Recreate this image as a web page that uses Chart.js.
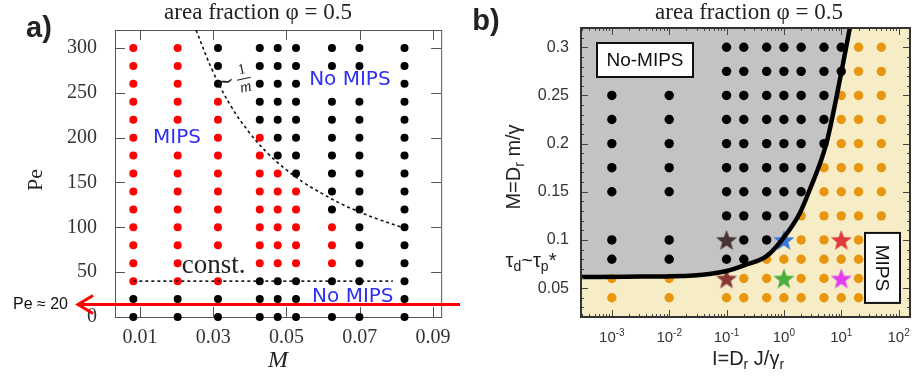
<!DOCTYPE html>
<html>
<head>
<meta charset="utf-8">
<script src="https://cdn.jsdelivr.net/npm/chart.js@4.4.1/dist/chart.umd.min.js"></script>
<style>
  html, body { margin: 0; padding: 0; background: #fff; }
  #wrap { position: relative; width: 915px; height: 379px; overflow: hidden; }
  canvas { position: absolute; top: 0; }
  #phaseA { left: 0; }
  #phaseB { left: 460px; }
</style>
</head>
<body>
<div id="wrap">
  <canvas id="phaseA" width="460" height="379"></canvas>
  <canvas id="phaseB" width="455" height="379"></canvas>
</div>
<script>
// ---------- panel a: Peclet number vs mass ----------
const massCols = [0.0082, 0.0203, 0.0313, 0.0427, 0.0476, 0.0526, 0.0624, 0.0699, 0.0822];
// Pe values of the MIPS (red) and no-MIPS (black) runs, one list per mass column
const redPe = [
  [40, 60, 80, 100, 120, 140, 160, 180, 200, 220, 240, 260, 280, 300],
  [40, 60, 80, 100, 120, 140, 160, 180, 220, 240, 260, 280, 300],
  [40, 80, 100, 120, 140, 160, 180, 200, 220, 240],
  [60, 80, 100, 120, 140, 160, 180, 200],
  [60, 80, 100, 120, 140, 160],
  [60, 80, 100, 120, 140],
  [60, 80, 100],
  [],
  []
];
const blackPe = [
  [0, 20],
  [0, 20],
  [0, 20, 260, 280, 300],
  [0, 20, 40, 220, 240, 260, 280, 300],
  [0, 20, 40, 180, 200, 220, 240, 260, 280, 300],
  [0, 20, 40, 160, 180, 200, 220, 240, 260, 280, 300],
  [0, 40, 120, 140, 160, 180, 200, 220, 240, 280, 300],
  [0, 40, 60, 80, 100, 120, 140, 160, 180, 200, 220, 240, 280, 300],
  [0, 20, 40, 60, 80, 100, 120, 140, 160, 180, 200, 220, 240, 260, 280, 300]
];
// ~1/m boundary and the constant low-Pe boundary
const invCurveM = [0.0253, 0.030, 0.035, 0.040, 0.045, 0.050, 0.055, 0.060, 0.065, 0.070, 0.075, 0.0816];
const invCurvePe = [320, 273, 234, 205, 182, 164, 149, 137, 126, 117, 109, 100];
const constLineM = [0.0082, 0.0790];
const constLinePe = [40, 40];
const xTicksA = [0.01, 0.03, 0.05, 0.07, 0.09];
const yTicksA = [0, 50, 100, 150, 200, 250, 300];
const arrowPe = 14;

// ---------- panel b: reduced mass vs reduced inertia ----------
const inertiaCols = [0.001, 0.01, 0.1, 0.2, 0.5, 1, 2, 5, 10, 20, 50];
const blackM = [
  [0.08, 0.1, 0.15, 0.175, 0.2, 0.225, 0.25],
  [0.08, 0.1, 0.15, 0.175, 0.2, 0.225, 0.25],
  [0.08, 0.125, 0.15, 0.175, 0.2, 0.225, 0.25, 0.275, 0.3],
  [0.08, 0.1, 0.125, 0.15, 0.175, 0.2, 0.225, 0.25, 0.275, 0.3],
  [0.1, 0.125, 0.15, 0.175, 0.2, 0.225, 0.25, 0.275, 0.3],
  [0.125, 0.15, 0.175, 0.2, 0.225, 0.25, 0.275, 0.3],
  [0.15, 0.175, 0.2, 0.225, 0.25, 0.275, 0.3],
  [0.2, 0.225, 0.25, 0.275, 0.3],
  [0.275, 0.3],
  [],
  []
];
const orangeM = [
  [0.04, 0.06],
  [0.04, 0.06],
  [0.04],
  [0.04, 0.06],
  [0.04, 0.06, 0.08],
  [0.04, 0.08],
  [0.04, 0.06, 0.08, 0.1, 0.125],
  [0.04, 0.06, 0.08, 0.1, 0.125, 0.15, 0.175],
  [0.04, 0.08, 0.125, 0.15, 0.175, 0.2, 0.225, 0.25],
  [0.04, 0.06, 0.08, 0.1, 0.125, 0.15, 0.175, 0.2, 0.225, 0.25, 0.275, 0.3],
  [0.04, 0.06, 0.08, 0.1, 0.125, 0.15, 0.175, 0.2, 0.225, 0.25, 0.275, 0.3]
];
const starI = [0.1, 0.1, 1, 1, 10, 10];
const starM = [0.1, 0.06, 0.1, 0.06, 0.1, 0.06];
const starColors = ['#463333', '#8c3838', '#3a78da', '#4aae3e', '#e03a3c', '#e03ef0'];
const boundaryI = [0.00029, 0.0018, 0.0265, 0.1, 0.224, 0.5, 1.04, 1.9, 2.83, 5.53, 10.1, 14.1];
const boundaryM = [0.0615, 0.0619, 0.0632, 0.0677, 0.0746, 0.0832, 0.104, 0.128, 0.1523, 0.2006, 0.2747, 0.32];
const xTicksB = [0.001, 0.01, 0.1, 1, 10, 100];
const yTicksB = [0.05, 0.1, 0.15, 0.2, 0.25, 0.3];

const SERIF = '"Liberation Serif", "DejaVu Serif", serif';
const SANS = '"Liberation Sans", Arial, sans-serif';

function columnPoints(cols, lists) {
  return cols.flatMap((c, i) => lists[i].map(v => ({ x: c, y: v })));
}

function line(ctx, x1, y1, x2, y2) {
  ctx.beginPath();
  ctx.moveTo(x1, y1);
  ctx.lineTo(x2, y2);
  ctx.stroke();
}

// text made of normal / sub / sup pieces, centred on cx with baseline at y
function drawParts(ctx, parts, cx, y, size, family) {
  const fonts = parts.map(p => `${p[2] || ''} ${p[1] === 'n' ? size : Math.round(size * 0.68)}px ${family}`);
  let w = 0;
  parts.forEach((p, i) => { ctx.font = fonts[i]; w += ctx.measureText(p[0]).width; });
  let x = cx - w / 2;
  ctx.textAlign = 'left';
  ctx.textBaseline = 'alphabetic';
  parts.forEach((p, i) => {
    ctx.font = fonts[i];
    const dy = p[1] === 'sub' ? size * 0.22 : p[1] === 'sup' ? -size * 0.42 : 0;
    ctx.fillText(p[0], x, y + dy);
    x += ctx.measureText(p[0]).width;
  });
}

function starImage(color) {
  const c = document.createElement('canvas');
  c.width = 24;
  c.height = 24;
  const g = c.getContext('2d');
  g.beginPath();
  for (let i = 0; i < 10; i++) {
    const r = i % 2 ? 4.6 : 11;
    const a = -Math.PI / 2 + i * Math.PI / 5;
    g.lineTo(12 + r * Math.cos(a), 13 + r * Math.sin(a));
  }
  g.closePath();
  g.fillStyle = color;
  g.fill();
  return c;
}

// frame, inward ticks and annotations of panel a
const decorA = {
  id: 'decorA',
  beforeDatasetsDraw(chart) {
    const { ctx, chartArea: a, scales: { x, y } } = chart;
    ctx.save();
    ctx.strokeStyle = '#555';
    ctx.lineWidth = 1;
    ctx.strokeRect(a.left + 0.5, a.top + 0.5, a.width, a.height);
    x.ticks.forEach(t => {
      const px = Math.round(x.getPixelForValue(t.value)) + 0.5;
      line(ctx, px, a.bottom, px, a.bottom - 10);
      line(ctx, px, a.top, px, a.top + 10);
    });
    y.ticks.forEach(t => {
      const py = Math.round(y.getPixelForValue(t.value)) + 0.5;
      line(ctx, a.left, py, a.left + 10, py);
      line(ctx, a.right, py, a.right - 10, py);
    });
    ctx.restore();
  },
  afterDraw(chart) {
    const { ctx, scales: { x, y } } = chart;
    ctx.save();
    ctx.fillStyle = '#222';
    ctx.textAlign = 'center';
    ctx.textBaseline = 'middle';
    ctx.font = `23px ${SERIF}`;
    ctx.fillText('area fraction \u03c6 = 0.5', 258, 13);
    ctx.font = `bold 29px ${SANS}`;
    ctx.fillText('a)', 39, 29);
    ctx.font = `italic 24px ${SERIF}`;
    ctx.fillText('M', 278, 361);
    ctx.save();
    ctx.translate(36, 180);
    ctx.rotate(-Math.PI / 2);
    ctx.font = `22px ${SERIF}`;
    ctx.fillText('Pe', 0, 0);
    ctx.restore();

    // region labels
    ctx.fillStyle = '#3030f0';
    ctx.font = `20px "DejaVu Sans", ${SANS}`;
    ctx.fillText('MIPS', x.getPixelForValue(0.0201), y.getPixelForValue(200));
    ctx.fillText('No MIPS', x.getPixelForValue(0.0673), y.getPixelForValue(264));
    ctx.fillText('No MIPS', x.getPixelForValue(0.0681), y.getPixelForValue(22));

    ctx.fillStyle = '#222';
    ctx.font = `27px ${SERIF}`;
    ctx.textAlign = 'left';
    ctx.fillText('const.', x.getPixelForValue(0.0214), y.getPixelForValue(57));

    // ~ 1/m label, tilted along the curve
    ctx.save();
    ctx.translate(x.getPixelForValue(0.0365), y.getPixelForValue(264));
    ctx.rotate(-0.22);
    ctx.textAlign = 'center';
    ctx.font = `22px ${SERIF}`;
    ctx.fillText('\u223c', -12, 0);
    ctx.font = `15px ${SERIF}`;
    ctx.fillText('1', 7, -9);
    ctx.font = `italic 16px ${SERIF}`;
    ctx.fillText('m', 7, 9);
    ctx.strokeStyle = '#222';
    ctx.lineWidth = 1;
    line(ctx, 0, 0, 14, 0);
    ctx.restore();

    // red arrow marking the lowest Pe
    const ay = y.getPixelForValue(arrowPe);
    ctx.strokeStyle = '#ff0000';
    ctx.lineWidth = 3;
    line(ctx, 79, ay, 460, ay);
    ctx.beginPath();
    ctx.moveTo(93, ay - 9);
    ctx.lineTo(78, ay);
    ctx.lineTo(93, ay + 9);
    ctx.stroke();
    ctx.fillStyle = '#111';
    ctx.font = `16px ${SANS}`;
    ctx.textAlign = 'right';
    ctx.fillText('Pe \u2248 20', 68, ay);
    ctx.restore();
  }
};

new Chart(document.getElementById('phaseA'), {
  type: 'scatter',
  data: {
    datasets: [
      {
        data: invCurveM.map((m, i) => ({ x: m, y: invCurvePe[i] })),
        showLine: true, borderColor: '#111', borderWidth: 1.6, borderDash: [3, 3],
        pointRadius: 0, tension: 0.4, fill: false
      },
      {
        data: constLineM.map((m, i) => ({ x: m, y: constLinePe[i] })),
        showLine: true, borderColor: '#111', borderWidth: 1.6, borderDash: [3, 3],
        pointRadius: 0, fill: false
      },
      {
        data: columnPoints(massCols, redPe),
        backgroundColor: '#ff0000', borderWidth: 0, pointRadius: 4, clip: false
      },
      {
        data: columnPoints(massCols, blackPe),
        backgroundColor: '#000', borderWidth: 0, pointRadius: 4, clip: false
      }
    ]
  },
  options: {
    responsive: false,
    animation: false,
    events: [],
    layout: { padding: { top: 30, right: 17, left: 0, bottom: 0 } },
    plugins: { legend: { display: false }, tooltip: { enabled: false } },
    scales: {
      x: {
        type: 'linear', min: 0.0032, max: 0.0922,
        afterBuildTicks: s => { s.ticks = xTicksA.map(v => ({ value: v })); },
        afterFit: s => { s.height = 62; },
        grid: { display: false, drawTicks: false },
        border: { display: false },
        ticks: {
          font: { family: SERIF, size: 20 }, color: '#333', padding: 9,
          maxRotation: 0, autoSkip: false, callback: v => v.toFixed(2)
        }
      },
      y: {
        type: 'linear', min: 0, max: 320,
        afterBuildTicks: s => { s.ticks = yTicksA.map(v => ({ value: v })); },
        afterFit: s => { s.width = 115; },
        grid: { display: false, drawTicks: false },
        border: { display: false },
        ticks: {
          font: { family: SERIF, size: 20 }, color: '#333', padding: 18,
          autoSkip: false, callback: v => String(v)
        }
      }
    }
  },
  plugins: [decorA]
});

// background, frame, ticks and labels of panel b
const decorB = {
  id: 'decorB',
  beforeDraw(chart) {
    const { ctx, chartArea: a } = chart;
    ctx.save();
    ctx.fillStyle = '#f6edc6';
    ctx.fillRect(a.left, a.top, a.width, a.height);
    ctx.restore();
  },
  afterDraw(chart) {
    const { ctx, chartArea: a, scales: { x, y } } = chart;
    ctx.save();
    ctx.strokeStyle = '#444';
    ctx.lineWidth = 1;
    // minor log ticks
    for (let d = -4; d <= 2; d++) {
      for (let k = 2; k <= 9; k++) {
        const v = k * Math.pow(10, d);
        if (v < x.min || v > x.max) continue;
        const px = Math.round(x.getPixelForValue(v)) + 0.5;
        line(ctx, px, a.bottom, px, a.bottom - 3);
        line(ctx, px, a.top, px, a.top + 3);
      }
    }
    for (let k = 3; k <= 31; k++) {
      const py = Math.round(y.getPixelForValue(k / 100)) + 0.5;
      line(ctx, a.left, py, a.left + 3, py);
      line(ctx, a.right, py, a.right - 3, py);
    }
    x.ticks.forEach(t => {
      const px = Math.round(x.getPixelForValue(t.value)) + 0.5;
      line(ctx, px, a.bottom, px, a.bottom - 7);
      line(ctx, px, a.top, px, a.top + 7);
    });
    y.ticks.forEach(t => {
      const py = Math.round(y.getPixelForValue(t.value)) + 0.5;
      line(ctx, a.left, py, a.left + 7, py);
      line(ctx, a.right, py, a.right - 7, py);
    });
    ctx.strokeStyle = '#333';
    ctx.lineWidth = 2;
    ctx.strokeRect(a.left, a.top, a.width, a.height);

    // decade labels 10^n
    ctx.fillStyle = '#333';
    x.ticks.forEach(t => {
      const e = Math.round(Math.log10(t.value));
      drawParts(ctx, [['10', 'n'], [String(e), 'sup']], x.getPixelForValue(t.value), 342, 15, SANS);
    });

    // region boxes
    ctx.fillStyle = '#fff';
    ctx.strokeStyle = '#111';
    ctx.lineWidth = 2;
    ctx.fillRect(a.left + 16, a.top + 15, 96, 34);
    ctx.strokeRect(a.left + 16, a.top + 15, 96, 34);
    ctx.fillRect(a.right - 45, y.getPixelForValue(0.1) - 7, 35, 70);
    ctx.strokeRect(a.right - 45, y.getPixelForValue(0.1) - 7, 35, 70);
    ctx.fillStyle = '#111';
    ctx.textAlign = 'center';
    ctx.textBaseline = 'middle';
    ctx.font = `19px ${SANS}`;
    ctx.fillText('No-MIPS', a.left + 64, a.top + 33);
    ctx.save();
    ctx.translate(a.right - 27.5, y.getPixelForValue(0.1) + 28);
    ctx.rotate(Math.PI / 2);
    ctx.fillText('MIPS', 0, 1);
    ctx.restore();

    // titles and axis labels
    ctx.fillStyle = '#222';
    ctx.font = `23px ${SERIF}`;
    ctx.fillText('area fraction \u03c6 = 0.5', 289, 13);
    ctx.font = `bold 29px ${SANS}`;
    ctx.fillText('b)', 26, 22);
    drawParts(ctx, [['I=D', 'n'], ['r', 'sub'], [' J/\u03b3', 'n'], ['r', 'sub']], 288, 365, 20, SANS);
    ctx.save();
    ctx.translate(53, 167);
    ctx.rotate(-Math.PI / 2);
    drawParts(ctx, [['M=D', 'n'], ['r', 'sub'], [' m/\u03b3', 'n']], 0, 7, 20, SANS);
    ctx.restore();
    drawParts(ctx, [['\u03c4', 'n'], ['d', 'sub'], ['~\u03c4', 'n'], ['p', 'sub'], ['*', 'n']], 71, 267, 20, SANS);
    ctx.restore();
  }
};

new Chart(document.getElementById('phaseB'), {
  type: 'scatter',
  data: {
    datasets: [
      {
        type: 'line',
        data: boundaryI.map((v, i) => ({ x: v, y: boundaryM[i] })),
        borderColor: '#000', borderWidth: 4.5, pointRadius: 0,
        cubicInterpolationMode: 'monotone',
        fill: 'end', backgroundColor: '#c3c3c3'
      },
      {
        data: starI.map((v, i) => ({ x: v, y: starM[i] })),
        pointStyle: starColors.map(starImage), clip: false
      },
      {
        data: columnPoints(inertiaCols, blackM),
        backgroundColor: '#000', borderWidth: 0, pointRadius: 4.7, clip: false
      },
      {
        data: columnPoints(inertiaCols, orangeM),
        backgroundColor: '#e8960e', borderWidth: 0, pointRadius: 4.7, clip: false
      }
    ]
  },
  options: {
    responsive: false,
    animation: false,
    events: [],
    layout: { padding: { top: 28, right: 4, left: 0, bottom: 0 } },
    plugins: {
      legend: { display: false },
      tooltip: { enabled: false },
      filler: { drawTime: 'beforeDatasetsDraw' }
    },
    scales: {
      x: {
        type: 'logarithmic', min: 0.00029, max: 158,
        afterBuildTicks: s => { s.ticks = xTicksB.map(v => ({ value: v })); },
        afterFit: s => { s.height = 62; },
        grid: { display: false, drawTicks: false },
        border: { display: false },
        ticks: { display: false }
      },
      y: {
        type: 'linear', min: 0.02, max: 0.32,
        afterBuildTicks: s => { s.ticks = yTicksB.map(v => ({ value: v })); },
        afterFit: s => { s.width = 121; },
        grid: { display: false, drawTicks: false },
        border: { display: false },
        ticks: {
          font: { family: SANS, size: 16 }, color: '#333', padding: 12,
          autoSkip: false, callback: v => String(v)
        }
      }
    }
  },
  plugins: [decorB]
});
</script>
</body>
</html>
